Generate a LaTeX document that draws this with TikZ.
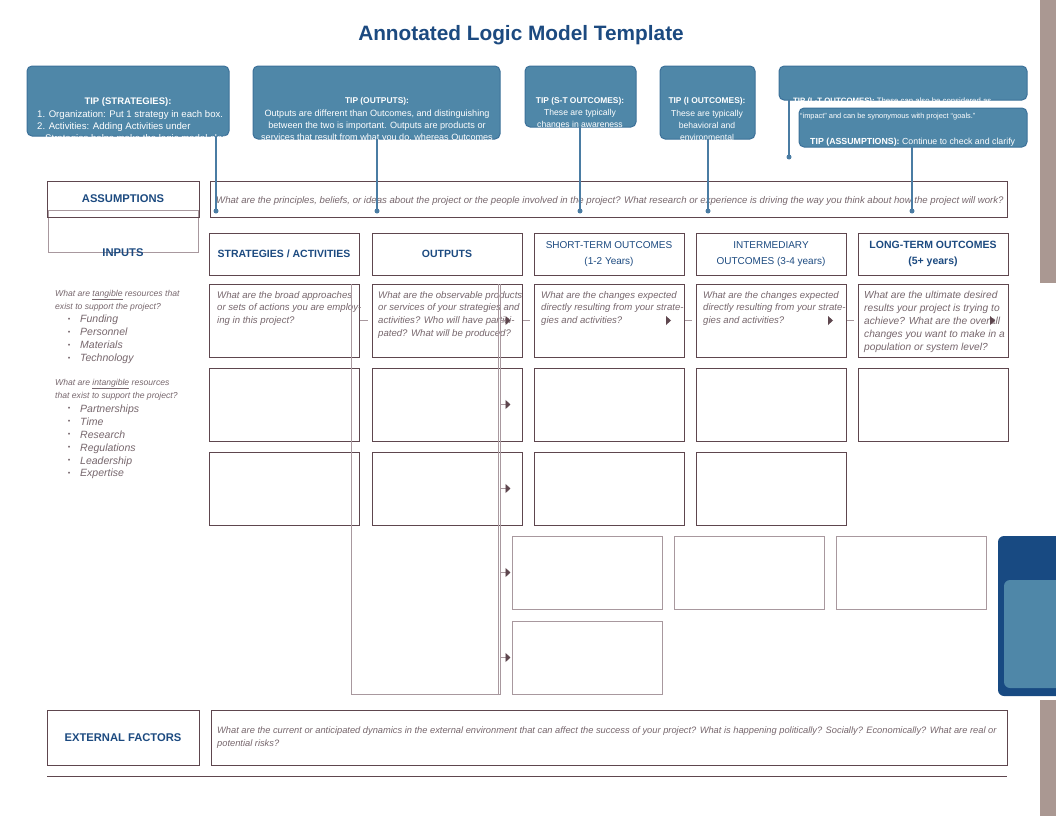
\documentclass[tikz,border=0pt]{standalone}
\usepackage{fontspec}
\setmainfont{Liberation Sans}
\usetikzlibrary{positioning}
\usetikzlibrary{arrows.meta}
\definecolor{tipblue}{HTML}{4F87A8}
\definecolor{tipedge}{HTML}{3C7199}
\definecolor{linkblue}{HTML}{4A7CA3}
\definecolor{boxline}{HTML}{5E464E}
\definecolor{paleline}{HTML}{A8989E}
\definecolor{headblue}{HTML}{1C4A80}
\definecolor{qgrey}{HTML}{76666C}
\definecolor{sidebar}{HTML}{AA9892}
\definecolor{navy}{HTML}{184A82}
\tikzset{
	doctitle/.style={text=headblue, font=\fontsize{20.8}{24}\selectfont\bfseries},
	tipbox/.style={draw=tipedge, fill=tipblue, line width=1pt, rounded corners=5pt,
		anchor=north west, inner sep=0pt, outer sep=0pt},
	tiptext/.style={text=white, font=\fontsize{9.1}{12.4}\selectfont, inner sep=0pt, align=center},
	tiplink/.style={draw=linkblue, line width=1.4pt},
	tipdot/.style={fill=linkblue},
	cell/.style={draw=boxline, line width=0.9pt, anchor=north west, inner sep=0pt, outer sep=0pt,
		minimum width=150pt, minimum height=73pt},
	palecell/.style={cell, draw=paleline},
	headcell/.style={cell, minimum height=42pt, text=headblue, align=center,
		font=\fontsize{10}{16}\selectfont},
	boldhead/.style={headcell, font=\fontsize{10.5}{16}\selectfont\bfseries},
	labelcell/.style={cell, minimum width=152pt, minimum height=36pt, text=headblue,
		font=\fontsize{11.2}{13}\selectfont\bfseries},
	question/.style={text=qgrey, font=\fontsize{9.6}{12.7}\selectfont\itshape, align=left,
		inner sep=0pt, anchor=north west},
	resource/.style={text=qgrey, font=\fontsize{10.5}{12}\selectfont\itshape, inner sep=0pt, anchor=base west},
	bracket/.style={draw=paleline, line width=0.9pt},
	flow/.style={draw=paleline, line width=0.9pt, -{Triangle[width=9pt,length=5pt,color=boxline]}},
}
\newcommand{\resbullet}{\llap{\raisebox{1.5pt}{\fontsize{7}{7}\selectfont\textbullet}\hspace{10pt}}}
\newcommand{\tiptitle}[1]{{\fontsize{8.4}{12.4}\selectfont\bfseries #1}}

\begin{document}
\begin{tikzpicture}[x=1pt, y=-1pt]
	\useasboundingbox (0,0) rectangle (1056,816);
	\node[doctitle] (title) at (521,35) {Annotated Logic Model Template};
	% page edge
	\fill[sidebar] (1040,0) rectangle (1056,283);
	\fill[sidebar] (1040,700) rectangle (1056,816);
	\fill[navy, rounded corners=6pt] (998,536) rectangle (1080,696);
	\fill[tipblue, rounded corners=6pt] (1004,580) rectangle (1080,688);
	% tips
	\node[tipbox, minimum width=202pt, minimum height=70pt] (tipstrat) at (27,66) {};
	\node[tipbox, minimum width=247pt, minimum height=73pt] (tipout) at (253,66) {};
	\node[tipbox, minimum width=111pt, minimum height=61pt] (tipst) at (525,66) {};
	\node[tipbox, minimum width=95pt, minimum height=73pt] (tipint) at (660,66) {};
	\node[tipbox, minimum width=248pt, minimum height=34pt] (tiplt) at (779,66) {};
	\node[tipbox, minimum width=228pt, minimum height=39pt] (tipassum) at (799,108) {};
	\begin{scope}
		\clip (tipstrat.north west) rectangle ([yshift=-2pt]tipstrat.south east);
		\node[tiptext, anchor=base, font=\fontsize{9.5}{12}\selectfont\bfseries] at (128,104.5) {TIP (STRATEGIES):};
		\node[tiptext, align=left, anchor=north west, font=\fontsize{9.6}{12}\selectfont] at (37,110.5)
			{1. Organization: Put 1 strategy in each box.\\2. Activities: Adding Activities under\\
			\hspace*{8pt}Strategies helps make the logic model clearer};
	\end{scope}
	\begin{scope}
		\clip (tipout.north west) rectangle ([yshift=-1pt]tipout.south east);
		\node[tiptext, anchor=north] at (377,97.5) {\tiptitle{TIP (OUTPUTS):}\\
			Outputs are different than Outcomes, and distinguishing\\
			between the two is important. Outputs are products or\\
			services that result from what you do, whereas Outcomes};
	\end{scope}
	\begin{scope}
		\clip (tipst.north west) rectangle ([yshift=-1pt]tipst.south east);
		\node[tiptext, anchor=north, font=\fontsize{8.6}{12.1}\selectfont] at (580,97.5)
			{\tiptitle{TIP (S-T OUTCOMES):}\\These are typically\\changes in awareness};
	\end{scope}
	\begin{scope}
		\clip (tipint.north west) rectangle ([yshift=-1pt]tipint.south east);
		\node[tiptext, anchor=north, font=\fontsize{8.6}{12.4}\selectfont] at (707,97.5)
			{\tiptitle{TIP (I OUTCOMES):}\\These are typically\\behavioral and\\environmental};
	\end{scope}
	\node[tiptext, anchor=base west, font=\fontsize{7.8}{9}\selectfont] at (793,103.5)
		{\textbf{TIP (L-T OUTCOMES):} These can also be considered as};
	\node[tiptext, anchor=base west, font=\fontsize{7.4}{9}\selectfont] at (800,118)
		{``impact'' and can be synonymous with project ``goals.''};
	\node[tiptext, anchor=base west, font=\fontsize{8.8}{10}\selectfont] at (810,144.5)
		{\textbf{TIP (ASSUMPTIONS):} Continue to check and clarify};

	% left labels
	\node[cell, draw=paleline, minimum width=150pt, minimum height=42pt] (inputbox) at (48,210) {};
	\node[labelcell] (assumlbl) at (47,181) {ASSUMPTIONS};
	\node[text=headblue, font=\fontsize{11.2}{13}\selectfont\bfseries] (inputlbl) at (123,253) {INPUTS};
	\node[cell, minimum width=797pt, minimum height=36pt] (assumtext) at (210,181) {};
	\node[question, anchor=west, font=\fontsize{9.6}{11}\selectfont\itshape, right=6pt of assumtext.west, yshift=-2pt]
		{What are the principles, beliefs, or ideas about the project or the people involved in the project? What research or experience is driving the way you think about how the project will work?};

	% column heads
	\node[boldhead] (hstrat) at (209,233) {STRATEGIES / ACTIVITIES};
	\node[boldhead] (hout) at (372,233) {OUTPUTS};
	\node[headcell] (hst) at (534,233) {SHORT-TERM OUTCOMES\\(1-2 Years)};
	\node[headcell] (hint) at (696,233) {INTERMEDIARY\\OUTCOMES (3-4 years)};
	\node[boldhead] (hlt) at (858,233) {LONG-TERM OUTCOMES\\(5+ years)};

	% cells
	\foreach \x [count=\i] in {209,372,534,696,858} {
		\node[cell] (a\i) at (\x,284) {};
		\node[cell] (b\i) at (\x,368) {};
	}
	\foreach \x [count=\i] in {209,372,534,696}
		\node[cell] (c\i) at (\x,452) {};
	\foreach \x [count=\i] in {512,674,836}
		\node[palecell] (d\i) at (\x,536) {};
	\node[palecell] (e1) at (512,621) {};

	% row one questions
	\node[question, below right=7pt and 8pt of a1.north west] (qa1)
		{What are the broad approaches\\or sets of actions you are employ-\\ing in this project?};
	\node[question, below right=7pt and 6pt of a2.north west] (qa2)
		{What are the observable products\\or services of your strategies and\\activities? Who will have partici-\\pated? What will be produced?};
	\node[question, below right=7pt and 7pt of a3.north west] (qa3)
		{What are the changes expected\\directly resulting from your strate-\\gies and activities?};
	\node[question, below right=7pt and 7pt of a4.north west] (qa4)
		{What are the changes expected\\directly resulting from your strate-\\gies and activities?};
	\node[question, font=\fontsize{10.2}{13}\selectfont\itshape, below right=6.5pt and 6pt of a5.north west] (qa5)
		{What are the ultimate desired\\results your project is trying to\\achieve? What are the overall\\changes you want to make in a\\population or system level?};

	% inputs
	\node[question, font=\fontsize{8.6}{13}\selectfont\itshape] (tangq) at (55,290)
		{What are \underline{tangible} resources that\\exist to support the project?};
	\foreach \res [count=\k] in {Funding,Personnel,Materials,Technology}
		\node[resource] (tang\k) at (80,309.5+13*\k) {\resbullet\res};
	\node[question, font=\fontsize{8.6}{13}\selectfont\itshape] (intangq) at (55,379)
		{What are \underline{intangible} resources\\that exist to support the project?};
	\foreach \res [count=\k] in {Partnerships,Time,Research,Regulations,Leadership,Expertise}
		\node[resource] (intang\k) at (80,399.5+12.9*\k) {\resbullet\res};

	% flow
	\coordinate (brL) at (351,284);
	\coordinate (brR) at (500,284);
	\draw[bracket] (brL) -- (brL |- e1.south) -- (brR |- e1.south) -- (brR);
	\draw[bracket] ([xshift=-2pt]brR) -- ([xshift=-2pt]brR |- e1.south);
	\foreach \row in {a2,b2,c2,d1,e1}
		\draw[flow] (brR |- \row.west) -- ++(10.5,0);
	\foreach \i/\j in {1/2,2/3,3/4,4/5}
		\draw[bracket] ([xshift=1pt]a\i.east) -- ([xshift=-4pt]a\j.west);
	\foreach \i in {3,4,5}
		\fill[boxline] ([xshift=-18pt,yshift=4.5pt]a\i.east) -- ([xshift=-13pt]a\i.east)
			-- ([xshift=-18pt,yshift=-4.5pt]a\i.east) -- cycle;

	% external factors
	\node[labelcell, minimum height=55pt] (extlbl) at (47,710) {EXTERNAL FACTORS};
	\node[cell, minimum width=796pt, minimum height=55pt] (exttext) at (211,710) {};
	\node[question, font=\fontsize{9.3}{12.8}\selectfont\itshape, below right=17pt and 6pt of exttext.north west]
		{What are the current or anticipated dynamics in the external environment that can affect the success of your project? What is happening politically? Socially? Economically? What are real or\\potential risks?};
	\draw[boxline, line width=0.9pt] (extlbl.south west |- 0,776) -- (exttext.south east |- 0,776);

	% tip pins
	\coordinate (pin1) at (216,211);
	\coordinate (pin2) at (377,211);
	\coordinate (pin3) at (580,211);
	\coordinate (pin4) at (708,211);
	\coordinate (pin5) at (789,157);
	\coordinate (pin6) at (912,211);
	\draw[tiplink] (tipstrat.south -| pin1) -- (pin1);
	\draw[tiplink] (tipout.south -| pin2) -- (pin2);
	\draw[tiplink] (tipst.south -| pin3) -- (pin3);
	\draw[tiplink] (tipint.south -| pin4) -- (pin4);
	\draw[tiplink] (tiplt.south -| pin5) -- (pin5);
	\draw[tiplink] (tipassum.south -| pin6) -- (pin6);
	\foreach \p in {pin1,pin2,pin3,pin4,pin5,pin6}
		\fill[tipdot] (\p) circle (2.5pt);
\end{tikzpicture}
\end{document}
